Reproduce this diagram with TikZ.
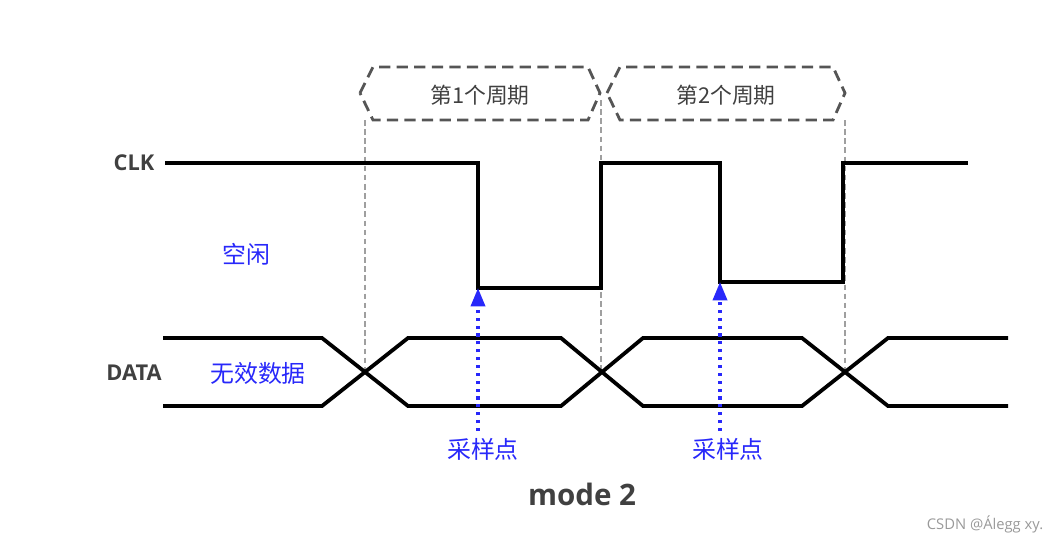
\documentclass[tikz,border=0pt]{standalone}
\usepackage{fontspec}
\setmainfont{Open Sans}
\newfontfamily\cjk{Noto Sans CJK SC}
\usetikzlibrary{positioning,arrows.meta}
\definecolor{sigtext}{RGB}{64,64,64}
\definecolor{hintblue}{RGB}{40,40,250}
\definecolor{framegray}{RGB}{85,85,85}

\begin{document}
\begin{tikzpicture}[x=0.025cm,y=-0.025cm]
	% --- lienzo en píxeles (y hacia abajo) ---
	\useasboundingbox (0,0) rectangle (1056,542);
	\tikzset{
		wave/.style={line width=2.7pt, line join=miter},
		guide/.style={gray!75, line width=0.9pt, dash pattern=on 4pt off 2.5pt},
		period/.style={framegray, line width=2pt, dash pattern=on 8pt off 4.5pt},
		sample/.style={hintblue, line width=2.3pt, dash pattern=on 2.2pt off 3.4pt, -{Triangle[length=13pt,width=10pt]}},
		signame/.style={font=\fontsize{15.5}{18}\selectfont\bfseries, text=sigtext},
		note/.style={font=\cjk\fontsize{17}{20}\selectfont, text=hintblue}
	}

	% --- Guías verticales de periodo ---
	\foreach \x/\top in {365/120,601/100,845/120} \draw[guide] (\x,\top) -- (\x,372);

	% --- Marcos de periodo ---
	\draw[period] (360,93) -- (373,67) -- (588,67) -- (600,93) -- (588,120) -- (373,120) -- cycle;
	\draw[period] (607,93) -- (620,67) -- (833,67) -- (845,93) -- (833,120) -- (620,120) -- cycle;
	\node[font=\cjk\fontsize{15.5}{18}\selectfont, text=sigtext] (per1) at (480,95) {第1个周期};
	\node[font=\cjk\fontsize{15.5}{18}\selectfont, text=sigtext] (per2) at (726,95) {第2个周期};

	% --- CLK ---
	\node[signame] (clk) at (134,163) {CLK};
	\draw[wave] (165,163) -- (478,163) -- (478,288) -- (601,288) -- (601,163)
		-- (720,163) -- (720,282) -- (843,282) -- (843,163) -- (968,163);
	\node[note] (idle) at (246,254) {空闲};

	% --- DATA ---
	\node[signame] (data) at (134,373) {DATA};
	\node[note] (invalid) at (258,373) {无效数据};
	\draw[wave] (163,338) -- (322,338) -- (408,406) -- (561,406) -- (643,338)
		-- (802,338) -- (888,406) -- (1008,406);
	\draw[wave] (163,406) -- (322,406) -- (408,338) -- (561,338) -- (643,406)
		-- (802,406) -- (888,338) -- (1008,338);
	\foreach \y in {338,406} \draw[line width=3.5pt] (680,\y) -- (766,\y);

	% --- Puntos de muestreo ---
	\node[note] (samp1) at (483,449) {采样点};
	\node[note] (samp2) at (728,449) {采样点};
	\coordinate (edge1) at (478,288);
	\coordinate (edge2) at (720,282);
	\draw[sample] (478,431) -- (edge1);
	\draw[sample] (720,431) -- (edge2);

	% --- Título ---
	\node[font=\fontsize{21}{24}\selectfont\bfseries, text=sigtext] (title) at (582,494) {mode 2};
	\node[font=\fontsize{10.5}{12}\selectfont, text=gray!80] (mark) at (985,524) {CSDN @Álegg xy.};
\end{tikzpicture}
\end{document}
